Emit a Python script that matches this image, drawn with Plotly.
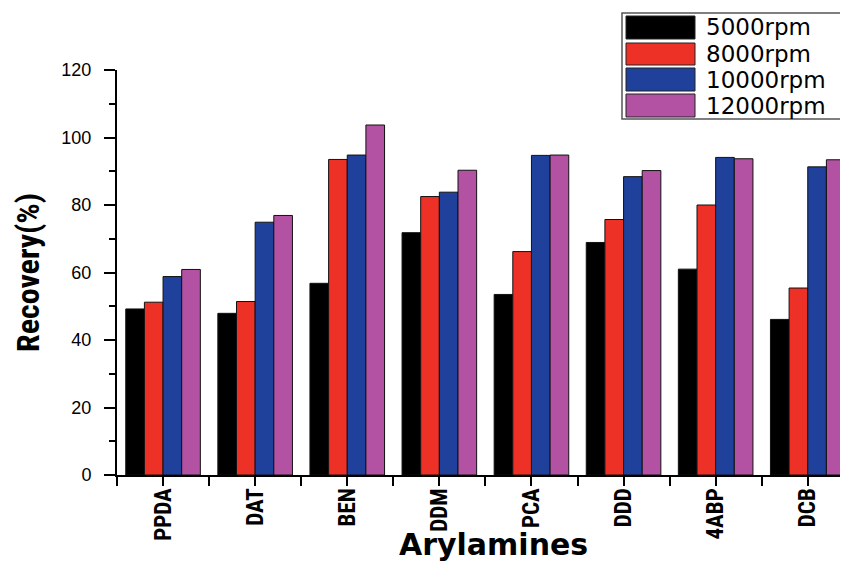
import plotly.graph_objects as go

categories = ["PPDA", "DAT", "BEN", "DDM", "PCA", "DDD", "4ABP", "DCB"]
series_names = ["5000rpm", "8000rpm", "10000rpm", "12000rpm"]
rpm5000 = [49.2, 47.9, 56.8, 71.8, 53.5, 68.9, 61.0, 46.1]
rpm8000 = [51.2, 51.4, 93.5, 82.5, 66.2, 75.7, 80.0, 55.4]
rpm10000 = [58.8, 74.9, 94.8, 83.8, 94.7, 88.4, 94.1, 91.3]
rpm12000 = [60.9, 76.9, 103.7, 90.3, 94.8, 90.2, 93.7, 93.4]
colors = ["#000000", "#EE3126", "#1F409B", "#B352A3"]
y_ticks = [0, 20, 40, 60, 80, 100, 120]

OFF = 8  # default body margin of the page
W, H = 848 - OFF, 565 - OFF
ML, MR, MT, MB = 117 - OFF, 0, 70 - OFF, 565 - 475
PW, PH = W - ML - MR, H - MT - MB

def px(sx):
    return (sx - OFF - ML) / PW

def py(sy):
    return (H - MB - (sy - OFF)) / PH

xs = list(range(len(categories)))
fig = go.Figure()
for name, vals, c in zip(series_names, [rpm5000, rpm8000, rpm10000, rpm12000], colors):
    fig.add_trace(go.Bar(x=xs, y=vals, name=name, marker=dict(color=c, line=dict(color="#111111", width=1)),
                         showlegend=False))

NARROW = "Liberation Sans Narrow, Roboto Condensed, Arial Narrow, Liberation Sans, sans-serif"
fig.update_layout(
    width=W, height=H,
    margin=dict(l=ML, r=MR, t=MT, b=MB, autoexpand=False),
    paper_bgcolor="white", plot_bgcolor="white",
    barmode="group", bargap=0.19, bargroupgap=0,
    font=dict(family="Liberation Sans, Arial, sans-serif", color="black"),
)
fig.update_xaxes(
    range=[-0.5, -0.5 + PW / 92.1], tickmode="array", tickvals=xs, ticktext=[f"<b>{c}</b>" for c in categories],
    tickangle=-90, ticks="outside", ticklen=9, tickwidth=2, tickcolor="black",
    showline=True, linecolor="black", linewidth=2, showgrid=False, zeroline=False,
    tickfont=dict(size=23, family=NARROW), ticklabelstandoff=-7,
    minor=dict(tickmode="linear", tick0=-0.5, dtick=1, ticks="outside", ticklen=9, tickwidth=2, tickcolor="black", showgrid=False),
)
fig.update_yaxes(
    range=[0, 120], tickmode="array", tickvals=y_ticks, ticks="outside", ticklen=11, tickwidth=2, tickcolor="black",
    showline=True, linecolor="black", linewidth=2, showgrid=False, zeroline=False,
    tickfont=dict(size=18, family="Liberation Sans, Arial, sans-serif"), ticklabelstandoff=9,
    minor=dict(tickmode="linear", tick0=10, dtick=20, ticks="outside", ticklen=6, tickwidth=2, tickcolor="black", showgrid=False),
)

ann = []
ann.append(dict(text="<b>Recovery(%)</b>", x=px(28), y=py(273), xref="paper", yref="paper", textangle=-90,
                xanchor="center", yanchor="middle",
                showarrow=False, font=dict(size=32, family=NARROW)))
ann.append(dict(text="<b>Arylamines</b>", x=px(493), y=py(564), xref="paper", yref="paper",
                xanchor="center", yanchor="bottom",
                showarrow=False, font=dict(size=30, family="DejaVu Sans, Verdana, sans-serif")))

shapes = []
shapes.append(dict(type="rect", xref="paper", yref="paper", x0=px(622), x1=px(846), y0=py(119), y1=py(13),
                   line=dict(color="#555555", width=1.5), fillcolor="white", layer="above"))
rows = [(16, 39), (43, 65), (68, 91), (94, 117)]
for (y0, y1), name, c in zip(rows, series_names, colors):
    shapes.append(dict(type="rect", xref="paper", yref="paper", x0=px(626), x1=px(695), y0=py(y1), y1=py(y0),
                       line=dict(color="#222222", width=1), fillcolor=c, layer="above"))
    ann.append(dict(text=name, x=px(704), y=py((y0 + y1) / 2), xref="paper", yref="paper", xanchor="left",
                    yanchor="middle", showarrow=False, font=dict(size=23, family="DejaVu Sans, Verdana, sans-serif")))

fig.update_layout(annotations=ann, shapes=shapes)
fig.write_html("out.html")
